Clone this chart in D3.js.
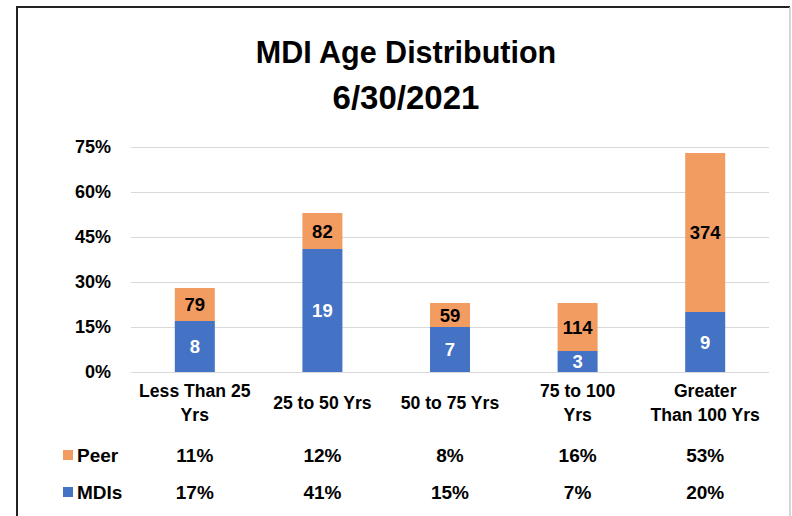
<!DOCTYPE html>
<html>
<head>
<meta charset="utf-8">
<script src="https://cdn.jsdelivr.net/npm/d3@7"></script>
<style>
  html, body { margin: 0; padding: 0; background: #fff; }
  svg { display: block; }
  text { font-family: "Liberation Sans", Arial, sans-serif; font-weight: bold; }
</style>
</head>
<body>
<svg id="chart" width="792" height="516"></svg>
<script>
// ---- data ----
const categories = ["Less Than 25 Yrs", "25 to 50 Yrs", "50 to 75 Yrs", "75 to 100 Yrs", "Greater Than 100 Yrs"];
const categoryLines = [["Less Than 25", "Yrs"], ["25 to 50 Yrs"], ["50 to 75 Yrs"], ["75 to 100", "Yrs"], ["Greater", "Than 100 Yrs"]];
const mdiPct = [17, 41, 15, 7, 20];
const peerPct = [11, 12, 8, 16, 53];
const mdiCount = [8, 19, 7, 3, 9];
const peerCount = [79, 82, 59, 114, 374];
const yTicks = [0, 15, 30, 45, 60, 75];
const seriesNames = ["MDIs", "Peer"];
const titleLines = ["MDI Age Distribution", "6/30/2021"];

const colors = { MDIs: "#4472C4", Peer: "#F29C62" };

const svg = d3.select("#chart");

// chart frame
svg.append("line").attr("x1", 17).attr("x2", 17).attr("y1", 6).attr("y2", 516)
  .attr("stroke", "#222").attr("stroke-width", 2);
svg.append("line").attr("x1", 16).attr("x2", 790).attr("y1", 7).attr("y2", 7)
  .attr("stroke", "#222").attr("stroke-width", 2);
svg.append("line").attr("x1", 790).attr("x2", 790).attr("y1", 7).attr("y2", 516)
  .attr("stroke", "#c8c8c8").attr("stroke-width", 1.5);

// title
const titleSizes = [30.5, 33];
svg.selectAll("text.title").data(titleLines).join("text")
  .attr("class", "title")
  .attr("x", 406)
  .attr("y", (d, i) => 63 + i * 46)
  .attr("text-anchor", "middle")
  .attr("font-size", (d, i) => titleSizes[i])
  .attr("fill", "#000")
  .text(d => d);

// scales
const x = d3.scaleBand().domain(categories).range([131, 769])
  .paddingInner(0.6865).paddingOuter(0.6865 / 2);
const y = d3.scaleLinear().domain([0, 75]).range([372, 147]);

// gridlines
svg.append("g").selectAll("line").data(yTicks).join("line")
  .attr("x1", 131).attr("x2", 769)
  .attr("y1", d => Math.round(y(d)) + 0.5).attr("y2", d => Math.round(y(d)) + 0.5)
  .attr("stroke", "#d9d9d9").attr("stroke-width", 1.2);

// y axis labels
const yAxis = d3.axisLeft(y).tickValues(yTicks).tickFormat(d => d + "%").tickSize(0).tickPadding(0);
const gy = svg.append("g").attr("transform", "translate(111,0)").call(yAxis);
gy.select(".domain").remove();
gy.selectAll("text").attr("font-size", 18).attr("fill", "#000")
  .style("font-family", "'Liberation Sans', Arial, sans-serif")
  .style("font-weight", "bold");

// stacked data
const rows = categories.map((c, i) => ({ cat: c, MDIs: mdiPct[i], Peer: peerPct[i], MDIsN: mdiCount[i], PeerN: peerCount[i] }));
const stacked = d3.stack().keys(seriesNames)(rows);

const layers = svg.append("g").selectAll("g").data(stacked).join("g")
  .attr("fill", d => colors[d.key]);
layers.selectAll("rect").data(d => d).join("rect")
  .attr("x", d => x(d.data.cat))
  .attr("width", x.bandwidth())
  .attr("y", d => y(d[1]))
  .attr("height", d => y(d[0]) - y(d[1]));

// segment labels
stacked.forEach(layer => {
  svg.append("g").selectAll("text").data(layer).join("text")
    .attr("x", d => x(d.data.cat) + x.bandwidth() / 2)
    .attr("y", d => (y(d[0]) + y(d[1])) / 2)
    .attr("dy", "0.36em")
    .attr("text-anchor", "middle")
    .attr("font-size", 18.5)
    .attr("fill", layer.key === "MDIs" ? "#fff" : "#000")
    .text(d => d.data[layer.key + "N"]);
});

// category labels
const catG = svg.append("g").selectAll("g").data(categories).join("g")
  .attr("transform", d => `translate(${x(d) + x.bandwidth() / 2},0)`);
catG.each(function(d, i) {
  const lines = categoryLines[i];
  const base = lines.length === 1 ? 409 : 397;
  d3.select(this).selectAll("text").data(lines).join("text")
    .attr("x", 0)
    .attr("y", (l, j) => base + j * 24)
    .attr("text-anchor", "middle")
    .attr("font-size", 17.6)
    .attr("fill", "#000")
    .text(l => l);
});

// data table (legend rows)
const tableRows = [
  { key: "Peer", values: peerPct, y: 462 },
  { key: "MDIs", values: mdiPct, y: 499 }
];
tableRows.forEach(r => {
  svg.append("rect").attr("x", 63).attr("y", r.y - 12).attr("width", 10).attr("height", 10)
    .attr("fill", colors[r.key]);
  svg.append("text").attr("x", 77).attr("y", r.y).attr("font-size", 19).attr("fill", "#000").text(r.key);
  svg.append("g").selectAll("text").data(r.values).join("text")
    .attr("x", (v, i) => x(categories[i]) + x.bandwidth() / 2)
    .attr("y", r.y)
    .attr("text-anchor", "middle")
    .attr("font-size", 19)
    .attr("fill", "#000")
    .text(v => v + "%");
});
</script>
</body>
</html>
